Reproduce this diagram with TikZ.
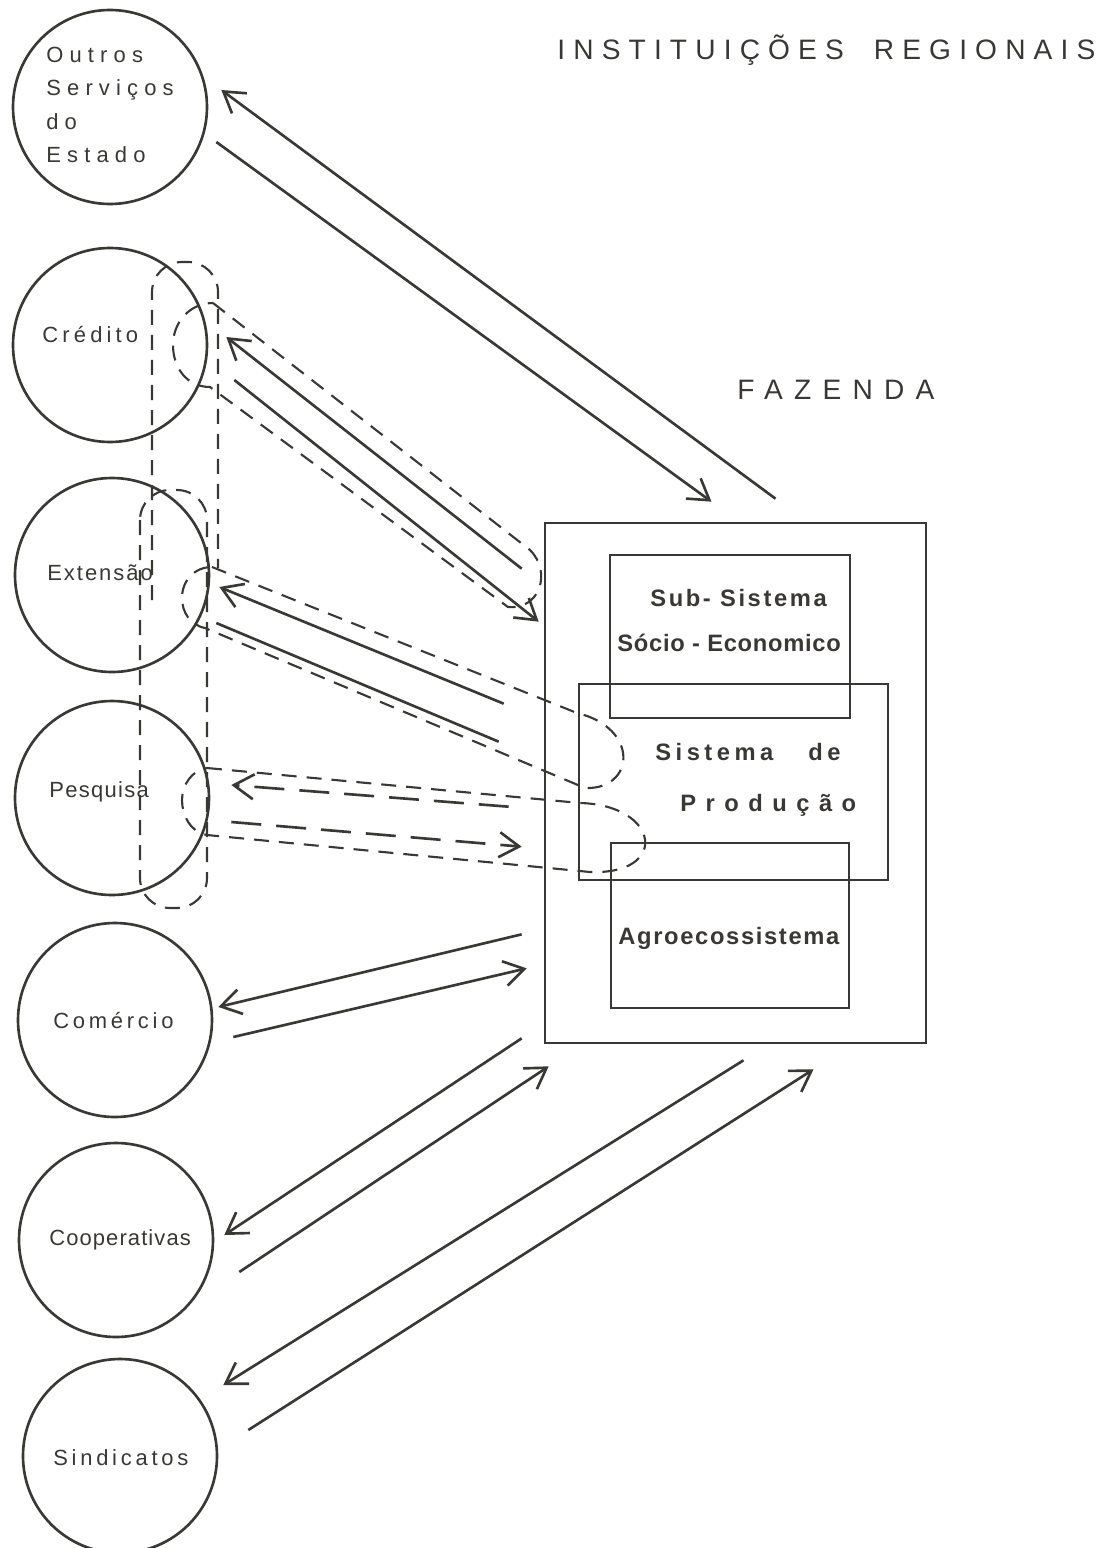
\documentclass[tikz,border=0pt]{standalone}
\usepackage{fontspec}
\setmainfont{Liberation Sans}
\usepackage{tikz}
\usetikzlibrary{arrows.meta}
\definecolor{ink}{RGB}{58,56,52}
\tikzset{
  inst/.style={draw=ink, circle, line width=1.5pt, minimum size=38.8mm, inner sep=0pt},
  sub/.style={draw=ink, line width=1.5pt, inner sep=0pt},
  ln/.style={draw=ink, line width=1.5pt},
  arr/.style={ln, -{Straight Barb[length=4mm,width=5mm]}},
  grp/.style={draw=ink, line width=1.2pt, dash pattern=on 3mm off 2mm},
  lng/.style={draw=ink, line width=1.5pt, dash pattern=on 6mm off 3mm},
  lbl/.style={anchor=west, inner sep=0pt, text=ink, font=\fontsize{12.5}{15}\selectfont\addfontfeature{LetterSpace=#1}},
  blbl/.style={anchor=west, inner sep=0pt, text=ink, font=\bfseries\fontsize{13.5}{16}\selectfont\addfontfeature{LetterSpace=#1}},
  ttl/.style={anchor=west, inner sep=0pt, text=ink, font=\fontsize{16}{19}\selectfont\addfontfeature{LetterSpace=#1}}
}

\begin{document}
\begin{tikzpicture}[x=0.2mm, y=-0.2mm]
    \path[fill=white, use as bounding box] (0,0) rectangle (1115,1548);

    \node[sub, minimum width=76.2mm, minimum height=104mm] (box0) at (735.5,783) {};
    \node[sub, minimum width=48mm, minimum height=32.6mm] (box1) at (730,636.5) {};
    \node[sub, minimum width=61.8mm, minimum height=39.2mm] (box2) at (733.5,782) {};
    \node[sub, minimum width=47.6mm, minimum height=33mm] (box3) at (730,925.5) {};

    \node[blbl=11] (txt1) at (650,598) {Sub- Sistema};
    \node[blbl=3] (txt2) at (617,643) {Sócio - Economico};
    \node[blbl=19] (txt3) at (655,752) {Sistema\hspace{7mm}de};
    \node[blbl=40] (txt4) at (680,805) {Produção};
    \node[blbl=7] (txt5) at (618,938) {Agroecossistema};

    \node[inst] (circ0) at (110,107) {};
    \node[inst] (circ1) at (110,345) {};
    \node[inst] (circ2) at (112,575) {};
    \node[inst] (circ3) at (112,798) {};
    \node[inst] (circ4) at (115,1020) {};
    \node[inst] (circ5) at (116,1240) {};
    \node[inst] (circ6) at (120,1456) {};

    \node[lbl=28, align=left] (txt0) at (46,105) {Outros\\[4pt]Serviços\\[4pt]do\\[4pt]Estado};
    \node[lbl=19] (txt6) at (42,335) {Crédito};
    \node[lbl=9] (txt7) at (47,573) {Extensão};
    \node[lbl=6] (txt8) at (49,792) {Pesquisa};
    \node[lbl=17] (txt9) at (53,1021) {Comércio};
    \node[lbl=5] (txt10) at (49,1240) {Cooperativas};
    \node[lbl=17] (txt11) at (53,1458) {Sindicatos};

    \node[ttl=29] (ttl0) at (557,50) {INSTITUIÇÕES\hspace{6mm}REGIONAIS};
    \node[ttl=40] (ttl1) at (737,390) {FAZENDA};

    \draw[grp, rounded corners=6mm] (152,600) |- (218,262) -- (218,568);
    \draw[grp, rounded corners=6mm] (140,490) rectangle (207,908);
    \draw[grp] (213,303) -- (530,550) .. controls (552,572) and (540,610) .. (508,607) -- (210,387)
        .. controls (187,387) and (173,368) .. (173,345) .. controls (173,322) and (190,303) .. (213,303);
    \draw[grp] (212,567) -- (577,713) .. controls (640,728) and (635,790) .. (585,788) -- (205,628)
        .. controls (190,625) and (182,612) .. (182,598) .. controls (182,580) and (195,567) .. (212,567);
    \draw[grp] (207,768) -- (580,803) .. controls (660,805) and (670,875) .. (590,872) -- (207,835)
        .. controls (190,832) and (182,815) .. (182,800) .. controls (182,785) and (192,770) .. (207,768);

    \draw[arr] ([shift={(40,-23)}]box0.north) -- ([shift={(13,-17)}]circ0.east);
    \draw[arr] ([shift={(8,35)}]circ0.east) -- ([shift={(-24,-20)}]box0.north);
    \draw[arr] ([shift={(-22,47)}]box0.north west) -- ([shift={(18,-8)}]circ1.east);
    \draw[arr] ([shift={(26,35)}]circ1.east) -- ([shift={(-5,100)}]box0.north west);
    \draw[arr] ([shift={(-40,182)}]box0.north west) -- ([shift={(9,12)}]circ2.east);
    \draw[ln] ([shift={(6,48)}]circ2.east) -- ([shift={(-45,220)}]box0.north west);
    \draw[lng, arr] ([shift={(-35,285)}]box0.north west) -- ([shift={(21,-13)}]circ3.east);
    \draw[lng, arr] ([shift={(21,24)}]circ3.east) -- ([shift={(-22,325)}]box0.north west);
    \draw[arr] ([shift={(-22,-110)}]box0.south west) -- ([shift={(5,-13)}]circ4.east);
    \draw[arr] ([shift={(20,17)}]circ4.east) -- ([shift={(-17,-76)}]box0.south west);
    \draw[arr] ([shift={(-22,-6)}]box0.south west) -- ([shift={(10,-5)}]circ5.east);
    \draw[arr] ([shift={(25,32)}]circ5.east) -- ([shift={(5,22)}]box0.south west);
    \draw[arr] ([shift={(8,16)}]box0.south) -- ([shift={(5,-71)}]circ6.east);
    \draw[arr] ([shift={(30,-26)}]circ6.east) -- ([shift={(78,25)}]box0.south);
\end{tikzpicture}
\end{document}
